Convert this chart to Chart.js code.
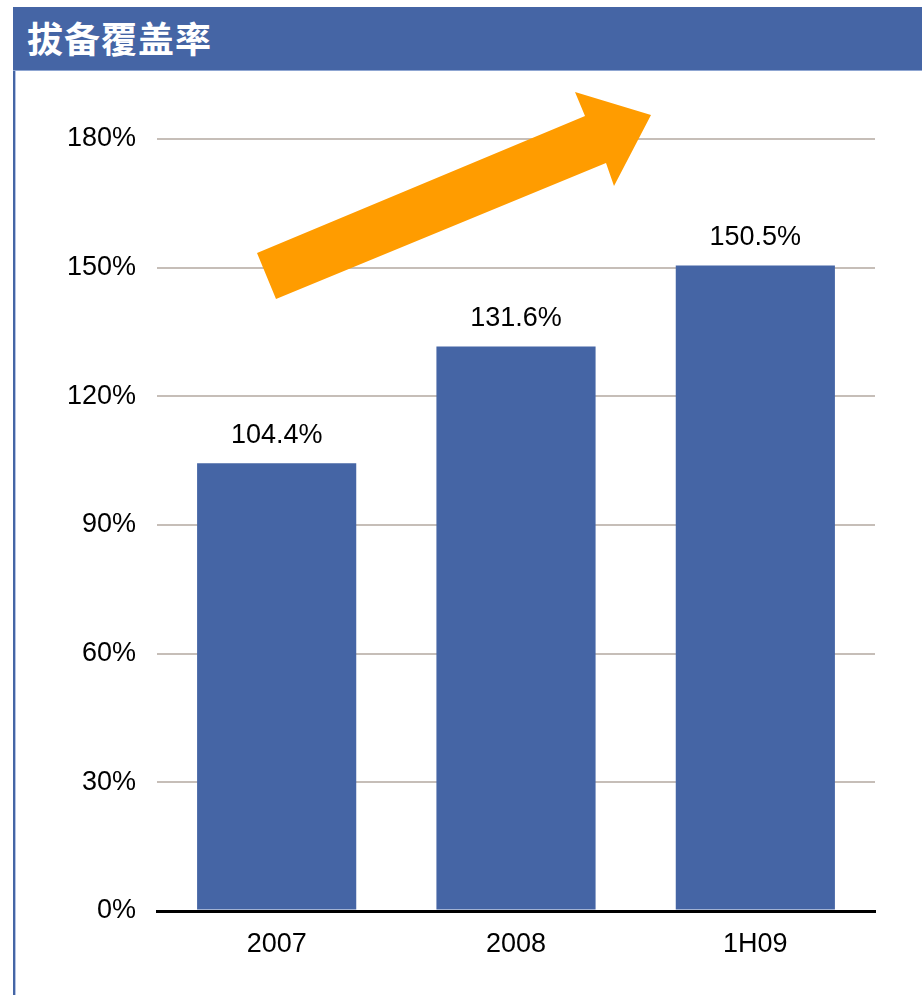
<!DOCTYPE html>
<html>
<head>
<meta charset="utf-8">
<script src="https://cdn.jsdelivr.net/npm/chart.js@4/dist/chart.umd.min.js"></script>
<style>
  html, body { margin: 0; padding: 0; background: #fff; }
  #wrap { position: relative; width: 922px; height: 995px; overflow: hidden; }
  #header { position: absolute; left: 13px; top: 7px; width: 909px; height: 64px; background: #4565A5; border-bottom: 1px solid #8FA6D2; box-sizing: border-box; }
  #header span { position: absolute; left: 14px; top: 9px; color: #fff; font-family: "Noto Sans CJK SC", serif; font-weight: 700; font-size: 36px; line-height: 42px; letter-spacing: 1px; }
  #lborder { position: absolute; left: 13px; top: 71px; width: 2px; height: 924px; background: #4565A5; border-right: 1px solid #B5C4E4; }
  #c { position: absolute; left: 0; top: 0; }
</style>
</head>
<body>
<div id="wrap">
  <canvas id="c" width="922" height="995"></canvas>
  <div id="header"><span>拔备覆盖率</span></div>
  <div id="lborder"></div>
</div>
<script>
const categories = ["2007", "2008", "1H09"];
const coverageRatio = [104.4, 131.6, 150.5];
const dataLabels = ["104.4%", "131.6%", "150.5%"];
const yTicks = [0, 30, 60, 90, 120, 150, 180];

const FONT = "'Liberation Sans', Arial, sans-serif";

const valueLabels = {
  id: 'valueLabels',
  afterDatasetsDraw(chart) {
    const ctx = chart.ctx;
    const meta = chart.getDatasetMeta(0);
    ctx.save();
    ctx.font = "27px " + FONT;
    ctx.fillStyle = "#000";
    ctx.textAlign = "center";
    ctx.textBaseline = "middle";
    meta.data.forEach((bar, i) => {
      ctx.fillText(dataLabels[i], bar.x, bar.y - 28);
    });
    ctx.restore();
  }
};

const trendArrow = {
  id: 'trendArrow',
  afterDraw(chart) {
    const ctx = chart.ctx;
    const pts = [[257,253],[585,116],[575,92],[651,115],[614,186],[606,163],[276,299]];
    ctx.save();
    ctx.fillStyle = "#FF9C00";
    ctx.beginPath();
    pts.forEach((p, i) => i ? ctx.lineTo(p[0], p[1]) : ctx.moveTo(p[0], p[1]));
    ctx.closePath();
    ctx.fill();
    ctx.restore();
  }
};

new Chart(document.getElementById('c'), {
  type: 'bar',
  data: {
    labels: categories,
    datasets: [{
      data: coverageRatio,
      backgroundColor: "#4565A5",
      borderWidth: 0,
      categoryPercentage: 1.0,
      barPercentage: 0.665
    }]
  },
  options: {
    responsive: false,
    animation: false,
    devicePixelRatio: 1,
    layout: { padding: { left: 0, right: 47, top: 139, bottom: 0 } },
    plugins: { legend: { display: false }, tooltip: { enabled: false } },
    scales: {
      x: {
        grid: { display: false, drawTicks: false },
        border: { display: true, color: "#000", width: 3 },
        ticks: { color: "#000", font: { family: FONT, size: 27 }, padding: 17 },
        afterFit(s) { s.height = 84; }
      },
      y: {
        min: 0, max: 180,
        afterBuildTicks(s) { s.ticks = yTicks.map(v => ({ value: v })); },
        grid: {
          drawTicks: false,
          color: (c) => c.tick && c.tick.value === 0 ? "#000" : "#C6BEB8",
          lineWidth: (c) => c.tick && c.tick.value === 0 ? 3 : 2
        },
        border: { display: false },
        ticks: {
          color: "#000", font: { family: FONT, size: 27 }, padding: 21,
          callback: (v) => v + "%"
        },
        afterFit(s) { s.width = 157; }
      }
    }
  },
  plugins: [valueLabels, trendArrow]
});
</script>
</body>
</html>
